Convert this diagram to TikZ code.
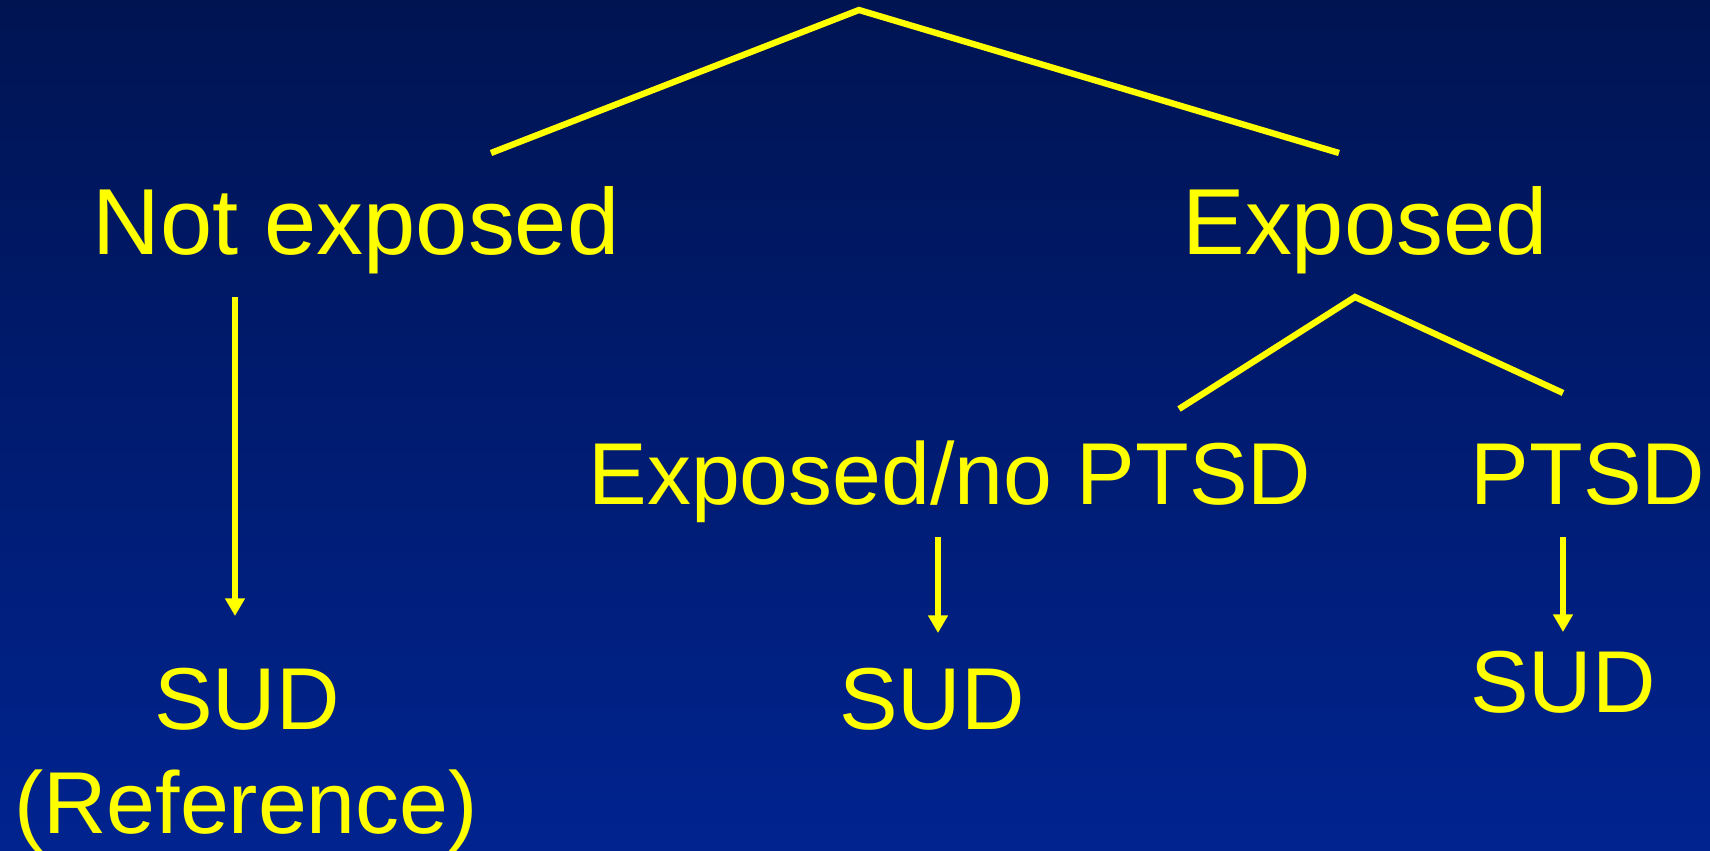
\documentclass[tikz,border=0pt]{standalone}
\usepackage{fontspec}
\setmainfont{Liberation Sans}
\usetikzlibrary{arrows.meta}
\definecolor{bgtop}{RGB}{0,20,82}
\definecolor{bgbottom}{RGB}{0,35,143}
\definecolor{labelyellow}{RGB}{255,255,0}
\begin{document}
\begin{tikzpicture}[x=0.1mm,y=-0.1mm,
  bigtext/.style={text=labelyellow, font=\fontsize{26.7pt}{30pt}\selectfont, anchor=base, inner sep=0pt},
  smalltext/.style={text=labelyellow, font=\fontsize{25pt}{28pt}\selectfont, anchor=base, inner sep=0pt},
  branch/.style={draw=labelyellow, line width=1.8pt, line join=miter},
  flow/.style={draw=labelyellow, line width=1.5pt, -{Triangle[width=5.4pt,length=5pt]}}]
  % background
  \shade[top color=bgtop, bottom color=bgbottom] (0,0) rectangle (1710,851);
  \useasboundingbox (0,0) rectangle (1710,851);

  % labels
  \node[bigtext] (notexp) at (356,254) {Not exposed};
  \node[bigtext] (exp) at (1365,255) {Exposed};
  \node[smalltext] (nopt) at (950,504) {Exposed/no PTSD};
  \node[smalltext] (ptsd) at (1588,504) {PTSD};
  \node[smalltext] (sudA) at (247,729) {SUD};
  \node[smalltext] (refnote) at (246,833) {(Reference)};
  \node[smalltext] (sudB) at (932,729) {SUD};
  \node[smalltext] (sudC) at (1563,712) {SUD};

  % branch points
  \coordinate (rootapex) at (859,10);
  \coordinate (rootL) at (491,153);
  \coordinate (rootR) at (1339,153);
  \coordinate (expapex) at (1355,297);
  \coordinate (expL) at (1179,409);
  \coordinate (expR) at (1563,393);

  % arrow ends
  \coordinate (aTop) at (235,297);
  \coordinate (aTip) at (235,616);
  \coordinate (bTop) at (938,537);
  \coordinate (bTip) at (938,633);
  \coordinate (cTop) at (1563,537);
  \coordinate (cTip) at (1563,632);

  % tree branches
  \draw[branch] (rootL) -- (rootapex) -- (rootR);
  \draw[branch] (expL) -- (expapex) -- (expR);

  % outcome arrows
  \draw[flow] (aTop) -- (aTip);
  \draw[flow] (bTop) -- (bTip);
  \draw[flow] (cTop) -- (cTip);
\end{tikzpicture}
\end{document}
